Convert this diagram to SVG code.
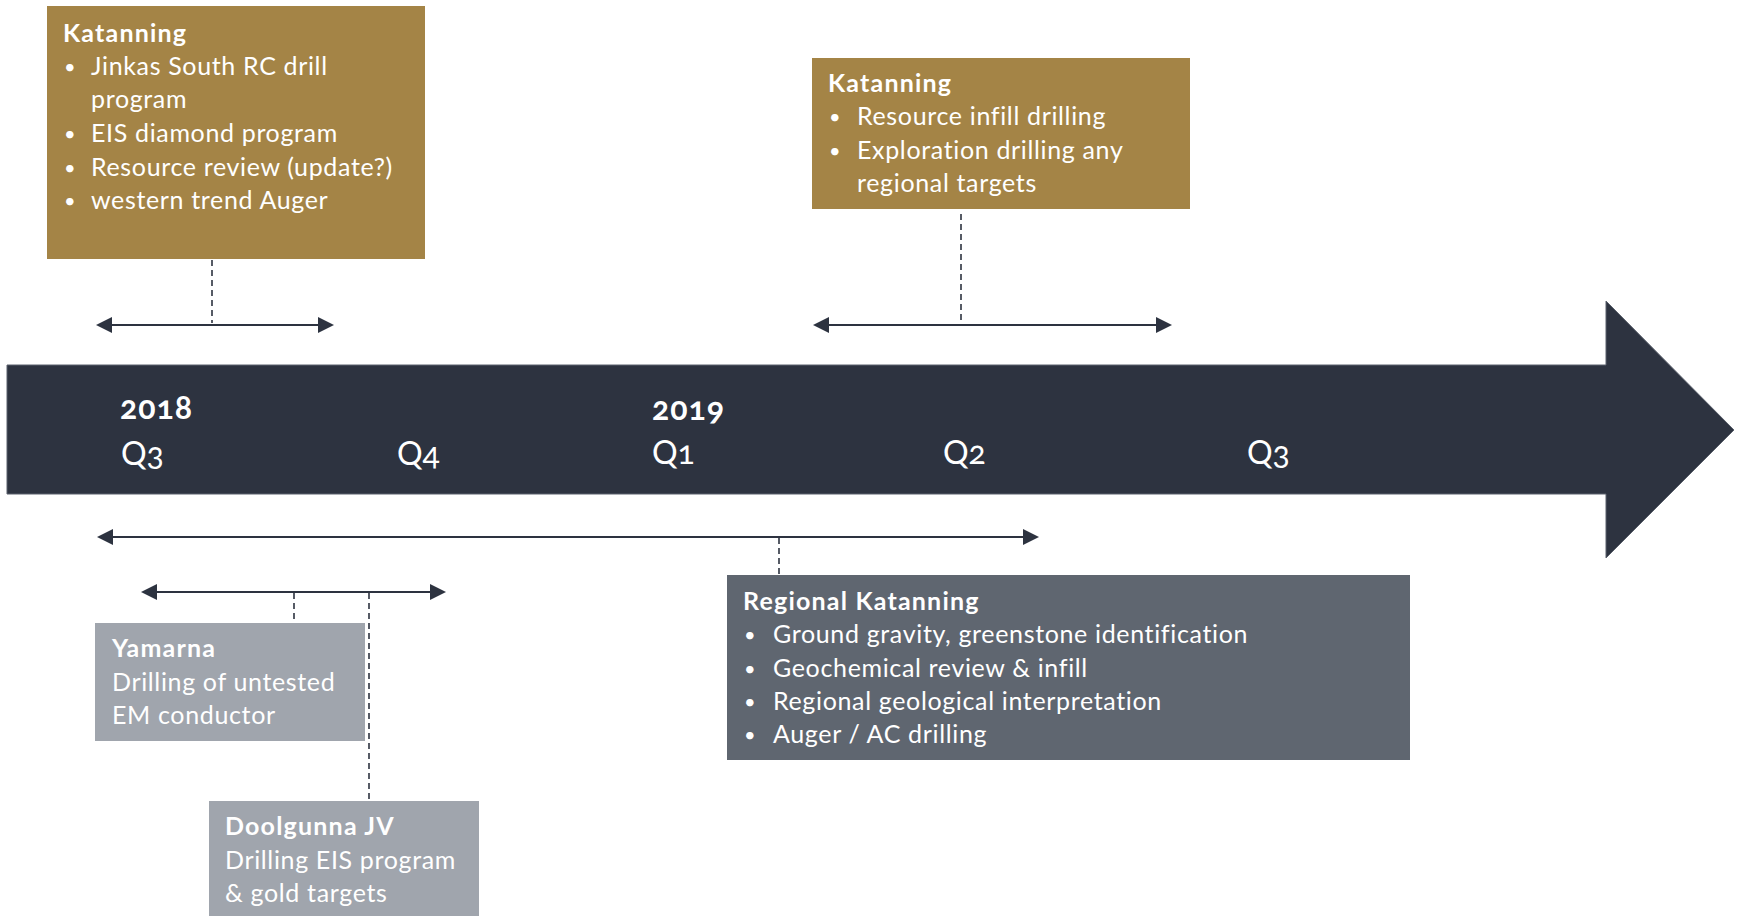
<svg xmlns="http://www.w3.org/2000/svg" width="1739" height="916" viewBox="0 0 1739 916">
<style>
  text { font-family: Lato, "Open Sans", "Liberation Sans", sans-serif; fill: #ffffff; }
  .t { font-size: 25px; font-weight: bold; letter-spacing: 1.2px; }
  .b { font-size: 25px; letter-spacing: 0.65px; }
  .d { font-size: 20px; }
  .yr { font-size: 32px; font-weight: bold; letter-spacing: 1px; font-variant-numeric: oldstyle-nums; }
  .q { font-size: 32px; font-variant-numeric: oldstyle-nums; }
  .gold { fill: #A48446; }
  .slate { fill: #5F6670; }
  .grey { fill: #A0A5AD; }
  .span { stroke: #2D3340; stroke-width: 2; fill: none; marker-start: url(#ah); marker-end: url(#ah); }
  .dash { stroke: #2D3340; stroke-width: 1.6; stroke-dasharray: 6 4; fill: none; }
</style>
<defs>
  <marker id="ah" viewBox="0 0 16 16" refX="14" refY="8" markerWidth="16" markerHeight="16" markerUnits="userSpaceOnUse" orient="auto-start-reverse">
    <path d="M0,0 L16,8 L0,16 Z" fill="#2D3340"/>
  </marker>
</defs>
<rect width="1739" height="916" fill="#ffffff"/>

<g id="timeline">
  <polygon points="7,365 1606,365 1606,301 1734,430 1606,558 1606,494 7,494" fill="#2D3340" stroke="#5b616c" stroke-width="1"/>
  <text class="yr" x="120" y="419">2018</text>
  <text class="q" x="121" y="465">Q3</text>
  <text class="q" x="397" y="465">Q4</text>
  <text class="yr" x="652" y="420">2019</text>
  <text class="q" x="652" y="464">Q1</text>
  <text class="q" x="943" y="464">Q2</text>
  <text class="q" x="1247" y="464">Q3</text>
</g>

<g id="connectors">
  <line class="span" x1="98" y1="325" x2="332" y2="325"/>
  <line class="dash" x1="212" y1="260" x2="212" y2="323"/>
  <line class="span" x1="815" y1="325" x2="1170" y2="325"/>
  <line class="dash" x1="961" y1="214" x2="961" y2="323"/>
  <line class="span" x1="99" y1="537" x2="1037" y2="537"/>
  <line class="dash" x1="779" y1="538" x2="779" y2="575"/>
  <line class="span" x1="143" y1="592" x2="444" y2="592"/>
  <line class="dash" x1="294" y1="593" x2="294" y2="623"/>
  <line class="dash" x1="369" y1="593" x2="369" y2="801"/>
</g>

<g id="katanning-2018">
  <rect class="gold" x="47" y="6" width="378" height="253"/>
  <text class="t" x="63" y="42">Katanning</text>
  <text class="d" x="64" y="74">•</text><text class="b" x="91" y="75">Jinkas South RC drill</text>
  <text class="b" x="91" y="108">program</text>
  <text class="d" x="64" y="141">•</text><text class="b" x="91" y="142">EIS diamond program</text>
  <text class="d" x="64" y="175">•</text><text class="b" x="91" y="176">Resource review (update?)</text>
  <text class="d" x="64" y="208">•</text><text class="b" x="91" y="209">western trend Auger</text>
</g>

<g id="katanning-2019">
  <rect class="gold" x="812" y="58" width="378" height="151"/>
  <text class="t" x="828" y="92">Katanning</text>
  <text class="d" x="829" y="124">•</text><text class="b" x="857" y="125">Resource infill drilling</text>
  <text class="d" x="829" y="158">•</text><text class="b" x="857" y="159">Exploration drilling any</text>
  <text class="b" x="857" y="192">regional targets</text>
</g>

<g id="regional-katanning">
  <rect class="slate" x="727" y="575" width="683" height="185"/>
  <text class="t" x="743" y="610">Regional Katanning</text>
  <text class="d" x="744" y="642">•</text><text class="b" x="773" y="643">Ground gravity, greenstone identification</text>
  <text class="d" x="744" y="676">•</text><text class="b" x="773" y="677">Geochemical review &amp; infill</text>
  <text class="d" x="744" y="709">•</text><text class="b" x="773" y="710">Regional geological interpretation</text>
  <text class="d" x="744" y="742">•</text><text class="b" x="773" y="743">Auger / AC drilling</text>
</g>

<g id="yamarna">
  <rect class="grey" x="95" y="623" width="270" height="118"/>
  <text class="t" x="112" y="657">Yamarna</text>
  <text class="b" x="112" y="691">Drilling of untested</text>
  <text class="b" x="112" y="724">EM conductor</text>
</g>

<g id="doolgunna">
  <rect class="grey" x="209" y="801" width="270" height="115"/>
  <text class="t" x="225" y="835">Doolgunna JV</text>
  <text class="b" x="225" y="869">Drilling EIS program</text>
  <text class="b" x="225" y="902">&amp; gold targets</text>
</g>
</svg>
